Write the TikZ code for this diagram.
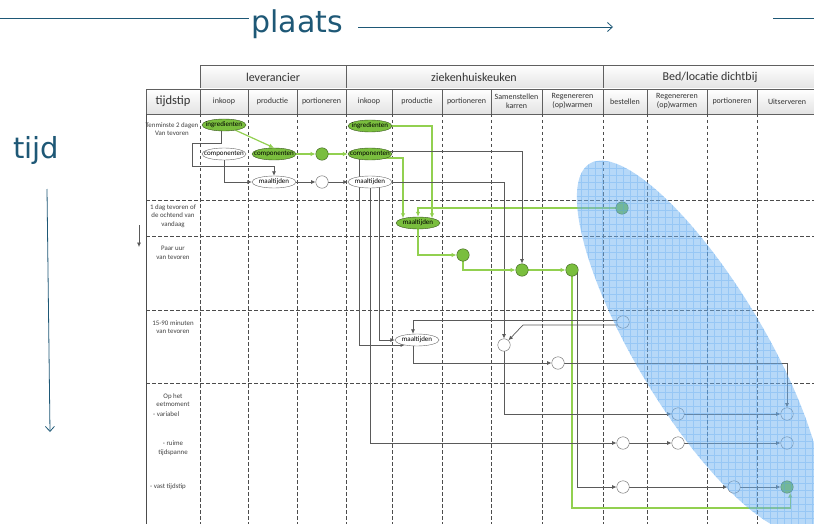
\documentclass[tikz,border=0pt]{standalone}
\usepackage{fontspec}
\setmainfont{Carlito}
\newfontfamily\axisfont{DejaVu Sans}
\usetikzlibrary{shapes.geometric,arrows.meta}

\definecolor{axisblue}{RGB}{30,88,118}
\definecolor{flowgreen}{RGB}{146,208,80}
\definecolor{nodegreen}{RGB}{122,190,62}
\definecolor{edgegray}{RGB}{90,90,90}
\definecolor{zoneblue}{RGB}{110,178,242}
\definecolor{zonegrid}{RGB}{80,160,238}

\pgfdeclarelayer{grid}
\pgfdeclarelayer{lines}
\pgfdeclarelayer{top}
\pgfsetlayers{grid,lines,main,top}

% text inside the small ellipses, not widening them
\newcommand{\elltext}[1]{\smash{\makebox[0pt]{\raisebox{-0.55ex}{#1}}}}

\begin{document}
\begin{tikzpicture}[x=1pt,y=-1pt,
    hdr/.style={draw=gray!75!black,line width=0.6pt,top color=white,bottom color=gray!22},
    grouphead/.style={font=\fontsize{12}{14}\selectfont,text=black!80,inner sep=0pt},
    colhead/.style={font=\fontsize{8}{9}\selectfont,align=center,text=black!80,inner sep=0pt},
    rowlab/.style={font=\fontsize{6.9}{8.6}\selectfont,align=center,text=black!75,inner sep=0pt},
    lane/.style={draw=gray!60!black,dash pattern=on 3.5pt off 2.5pt,line width=0.6pt},
    greenell/.style={ellipse,draw=black!55!nodegreen,fill=nodegreen,minimum width=44pt,minimum height=12pt,inner sep=0pt,font=\fontsize{7}{7}\selectfont},
    whiteell/.style={greenell,draw=gray!80!black,fill=white},
    greendot/.style={circle,draw=black!50!nodegreen,fill=nodegreen,minimum size=12.5pt,inner sep=0pt},
    whitedot/.style={greendot,draw=gray!80!black,fill=white},
    greenflow/.style={draw=flowgreen,line width=1.2pt,-{Latex[length=5pt,width=4.5pt]}},
    grayflow/.style={draw=edgegray,line width=0.7pt,-{Latex[length=4.5pt,width=4pt]}},
    axisline/.style={draw=axisblue,line width=0.8pt},
  ]
  \useasboundingbox (0,0) rectangle (814,524);

  % axes plaats / tijd
  \node[font=\axisfont\fontsize{30}{30}\selectfont,text=axisblue,inner sep=2pt] (plaats) at (297,24) {plaats};
  \coordinate (topL) at (0,18);
  \coordinate (topR) at (814,18);
  \coordinate (topRb) at (773,18);
  \coordinate (plaatsA) at (358,27);
  \coordinate (plaatsB) at (613,27);
  \draw[axisline] (topL) -- (topL -| plaats.west);
  \draw[axisline] (topRb) -- (topR);
  \draw[axisline,-{Straight Barb[length=5pt,width=9pt]}] (plaatsA) -- (plaatsB);
  \node[font=\axisfont\fontsize{29}{29}\selectfont,text=axisblue,inner sep=0pt] (tijd) at (36,150) {tijd};
  \coordinate (tijdA) at (47,189);
  \coordinate (tijdB) at (50,432);
  \draw[axisline,-{Straight Barb[length=5pt,width=9pt]}] (tijdA) -- (tijdB);

  % table
  \begin{pgfonlayer}{grid}
    \draw[hdr] (200,65) rectangle (346,89);
    \draw[hdr] (346,65) rectangle (603,89);
    \draw[hdr] (603,65) rectangle (830,89);
    \draw[hdr] (146,89) rectangle (200,114);
    \foreach \xa/\xb in {200/248,248/297,297/346,346/392,392/442,442/491,491/542,542/603,603/647,647/707,707/757,757/830}
      \draw[hdr] (\xa,89) rectangle (\xb,114);
    \draw[gray!60!black,line width=0.7pt] (146,114) -- (146,530);
    \foreach \ya in {200,236,310,383}
      \draw[lane] (146,\ya) -- (830,\ya);
    \foreach \xa in {200,248,297,346,392,442,491,542,603,647,707,757}
      \draw[lane] (\xa,114) -- (\xa,530);
  \end{pgfonlayer}
  \node[grouphead] (grpA) at (273,77) {leverancier};
  \node[grouphead] (grpB) at (474,77) {ziekenhuiskeuken};
  \node[grouphead] (grpC) at (710,77) {Bed/locatie dichtbij};
  \node[grouphead,font=\fontsize{12.5}{14}\selectfont] (hdTijd) at (173,101.5) {tijdstip};
  \foreach \xa/\xb/\lab [count=\i] in {200/248/inkoop,248/297/productie,297/346/portioneren,
      346/392/inkoop,392/442/productie,442/491/portioneren,491/542/{Samenstellen\\karren},
      542/603/{Regenereren\\(op)warmen},603/647/bestellen,647/707/{Regenereren\\(op)warmen},
      707/757/portioneren,757/817/Uitserveren}
    \node[colhead] (col\i) at ({(\xa+\xb)/2},101.5) {\lab};

  \node[rowlab] (rowA) at (172,129) {Tenminste 2 dagen\\Van tevoren};
  \node[rowlab] (rowB) at (173,216) {1 dag tevoren of\\de ochtend van\\vandaag};
  \node[rowlab] (rowC) at (173,253) {Paar uur\\van tevoren};
  \node[rowlab] (rowD) at (173,327) {15-90 minuten\\van tevoren};
  \node[rowlab] (rowE) at (173,400) {Op het\\eetmoment};
  \node[rowlab,anchor=west] (rowEa) at (153,414) {- variabel};
  \node[rowlab] (rowF) at (173,448) {- ruime\\tijdspanne};
  \node[rowlab] (rowG) at (168,487) {- vast tijdstip};
  \coordinate (tA) at (139,225);
  \coordinate (tB) at (139,247);
  \draw[grayflow] (tA) -- (tB);

  % leverancier
  \node[greenell] (lvIng) at (224,125) {\elltext{ingredienten}};
  \node[whiteell] (lvCompW) at (224,154) {\elltext{componenten}};
  \node[greenell] (lvCompG) at (274,154) {\elltext{componenten}};
  \node[whiteell] (lvMaal) at (274,182) {\elltext{maaltijden}};
  \node[greendot] (lvDotG) at (322,154) {};
  \node[whitedot] (lvDotW) at (322,182) {};

  % ziekenhuiskeuken
  \node[greenell] (zkIng) at (370,126) {\elltext{ingredienten}};
  \node[greenell] (zkComp) at (370,154) {\elltext{componenten}};
  \node[whiteell] (zkMaal) at (370,182) {\elltext{maaltijden}};
  \node[greenell] (zkMaalG) at (418,223) {\elltext{maaltijden}};
  \node[greendot] (zkPortG) at (463,255) {};
  \node[greendot] (karG) at (522,270) {};
  \node[greendot] (regG) at (572,270) {};
  \node[whiteell] (zkMaalW) at (417,340) {\elltext{maaltijden}};
  \node[whitedot] (karW) at (504,345) {};
  \node[whitedot] (regW) at (558,363) {};

  % bed / locatie
  \node[greendot] (bestG) at (622,208) {};
  \node[whitedot] (bestW) at (623,322) {};
  \node[whitedot] (bedRegA) at (678,414) {};
  \node[whitedot] (uitA) at (787,414) {};
  \node[whitedot] (bestB) at (623,443) {};
  \node[whitedot] (bedRegB) at (678,443) {};
  \node[whitedot] (uitB) at (787,443) {};
  \node[whitedot] (bestC) at (623,487) {};
  \node[whitedot] (portC) at (734,487) {};
  \node[greendot] (uitC) at (787,487) {};

  \begin{pgfonlayer}{lines}
    \draw[greenflow] (lvIng) -- (lvCompG.north);
    \draw[grayflow] ([xshift=-3pt]lvIng.center) |- (192,143) -- (192,166) -| (lvMaal.north);
    \draw[grayflow] (lvCompW) |- (lvMaal);
    \draw[greenflow] (lvCompG) -- (lvDotG);
    \draw[greenflow] (lvDotG) -- (zkComp);
    \draw[grayflow] (lvMaal) -- (lvDotW);
    \draw[grayflow] (lvDotW) -- (zkMaal);

    \draw[greenflow] (zkIng) -| ([xshift=14pt,yshift=-1.5pt]zkMaalG.north);
    \draw[greenflow] ([yshift=-4pt]zkComp.center) -| ([xshift=-15pt,yshift=-1.5pt]zkMaalG.north);
    \draw[greenflow] (bestG) -| (zkMaalG);
    \draw[grayflow] ([yshift=3pt]zkComp.center) -| (karG);
    \draw[grayflow] (zkMaal) -| (karW);
    \draw[greenflow] (zkMaalG) |- (zkPortG);
    \draw[greenflow] (zkPortG) |- (karG);
    \draw[greenflow] (karG) -- (regG);
    \draw[greenflow] (regG) -- ++(0,238) -| (uitC.-60);
    \draw[grayflow] ([xshift=5pt]regG.center) |- (bestC);

    \draw[grayflow] ([xshift=-11pt]zkComp.center) |- ([xshift=-12pt,yshift=-5pt]zkMaalW.center);
    \draw[grayflow] (zkMaal) |- (bestB);
    \draw[grayflow] ([xshift=9pt]zkMaal.center) |- (zkMaalW);
    \draw[grayflow] ([yshift=2pt]bestW.center) -| ([xshift=-4pt]zkMaalW.north);
    \draw[grayflow] ([yshift=-3pt]bestW.center) -- (523,325) -- (karW);
    \draw[grayflow] ([xshift=-4pt]zkMaalW.center) |- (regW);
    \draw[grayflow] (karW) |- (bedRegA);
    \draw[grayflow] (bedRegA) -- (uitA);
    \draw[grayflow] (regW) -| (uitA);
    \draw[grayflow] (bestB) -- (bedRegB);
    \draw[grayflow] (bedRegB) -- (uitB);
    \draw[grayflow] (bestC) -- (portC);
    \draw[grayflow] (portC) -- (uitC);
  \end{pgfonlayer}

  % blue zone
  \coordinate (zone) at (700,347);
  \begin{pgfonlayer}{top}
    \begin{scope}
      \clip[rotate around={-59:(zone)}] (zone) ellipse [x radius=214pt,y radius=64pt];
      \fill[zoneblue,opacity=0.5] (560,140) rectangle (830,540);
      \draw[zonegrid,opacity=0.3,line width=0.5pt] (560,140) grid[step=7pt] (830,540);
    \end{scope}
  \end{pgfonlayer}
\end{tikzpicture}
\end{document}
